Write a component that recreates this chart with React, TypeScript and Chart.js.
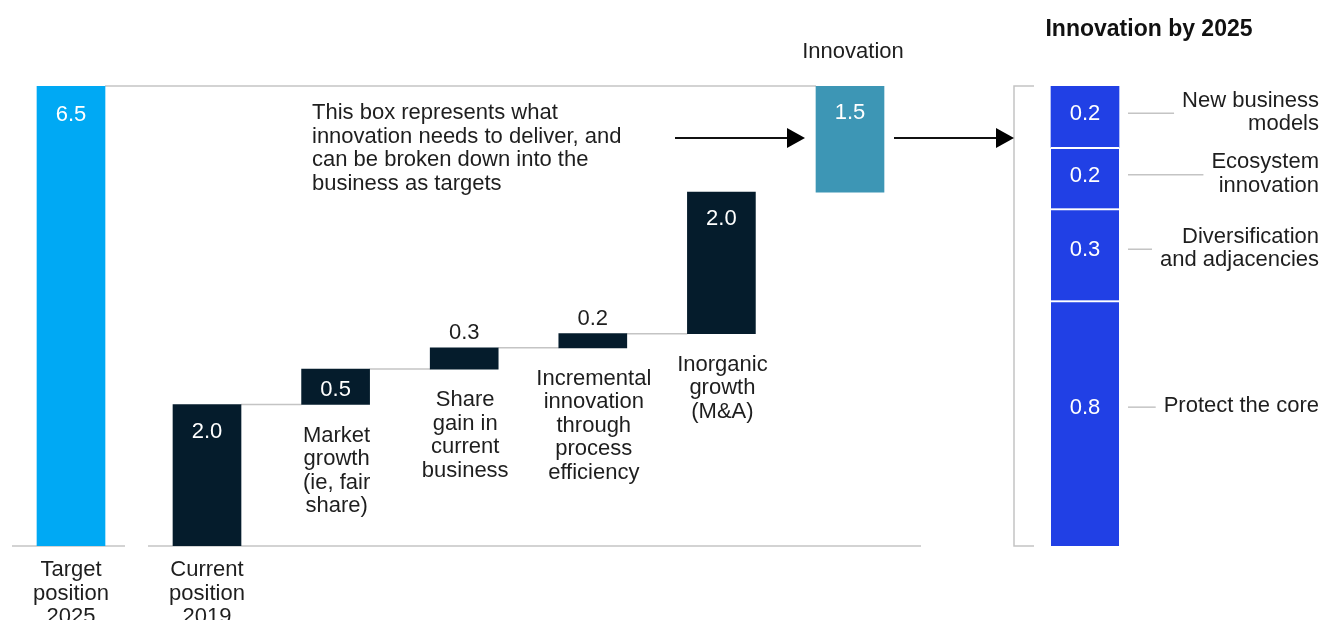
import React, { useEffect, useRef } from 'react';
import { Chart, registerables } from 'chart.js';
Chart.register(...registerables);

// ---------- data ----------
const targetLabel = ['Target', 'position', '2025'];
const targetValue = 6.5;

const stepCategories = [
  ['Current', 'position', '2019'],
  ['Market', 'growth', '(ie, fair', 'share)'],
  ['Share', 'gain in', 'current', 'business'],
  ['Incremental', 'innovation', 'through', 'process', 'efficiency'],
  ['Inorganic', 'growth', '(M&A)'],
  ['Innovation'],
];
const stepValues = [2.0, 0.5, 0.3, 0.2, 2.0, 1.5];

const breakdownTitle = 'Innovation by 2025';
const breakdownCategories = [
  ['Protect the core'],
  ['Diversification', 'and adjacencies'],
  ['Ecosystem', 'innovation'],
  ['New business', 'models'],
];
const breakdownValues = [0.8, 0.3, 0.2, 0.2];

const annotationLines = [
  'This box represents what',
  'innovation needs to deliver, and',
  'can be broken down into the',
  'business as targets',
];

// ---------- styles / layout ----------
const W = 1320;
const H = 620;
const TARGET_COLOR = '#00a9f4';
const STEP_COLOR = '#051c2c';
const INNOVATION_COLOR = '#3d96b5';
const BREAKDOWN_COLOR = '#2140e5';
const GRID = '#c4c4c4';
const TEXT = '#1e1e1e';
const FONT = '"Liberation Sans", Arial, sans-serif';
const LH = 23.5;
const TY = 2; // text vertical nudge

// waterfall built from step values
const stepRanges: [number, number][] = [];
{
  let cum = 0;
  stepValues.forEach((v) => {
    stepRanges.push([cum, cum + v]);
    cum += v;
  });
}
const breakdownRanges: [number, number][] = [];
{
  let cum = 0;
  breakdownValues.forEach((v) => {
    breakdownRanges.push([cum, cum + v]);
    cum += v;
  });
}
const breakdownTotal = breakdownValues.reduce((a, b) => a + b, 0);

const fmt = (v: number) => v.toFixed(1);

function bar(chart: any, ds: number, i: number) {
  const el = chart.getDatasetMeta(ds).data[i];
  const p = el.getProps(['x', 'y', 'base', 'width'], true);
  const top = Math.min(p.y, p.base);
  const bottom = Math.max(p.y, p.base);
  return { x: p.x, top, bottom, left: p.x - p.width / 2, right: p.x + p.width / 2, h: bottom - top };
}

function hline(ctx: CanvasRenderingContext2D, x1: number, x2: number, y: number, color = GRID, w = 1.5) {
  ctx.save();
  ctx.strokeStyle = color;
  ctx.lineWidth = w;
  ctx.beginPath();
  ctx.moveTo(x1, y);
  ctx.lineTo(x2, y);
  ctx.stroke();
  ctx.restore();
}

function arrow(ctx: CanvasRenderingContext2D, x1: number, x2: number, y: number) {
  ctx.save();
  ctx.strokeStyle = '#111';
  ctx.fillStyle = '#000';
  ctx.lineWidth = 2;
  ctx.beginPath();
  ctx.moveTo(x1, y);
  ctx.lineTo(x2 - 16, y);
  ctx.stroke();
  ctx.beginPath();
  ctx.moveTo(x2, y);
  ctx.lineTo(x2 - 18, y - 10);
  ctx.lineTo(x2 - 18, y + 10);
  ctx.closePath();
  ctx.fill();
  ctx.restore();
}

function text(ctx: CanvasRenderingContext2D, s: string, x: number, y: number) {
  ctx.fillText(s, x, y + TY);
}

function textLines(ctx: CanvasRenderingContext2D, lines: string[], x: number, y0: number) {
  lines.forEach((t, i) => text(ctx, t, x, y0 + i * LH));
}

const overlay = {
  id: 'overlay',
  beforeDatasetsDraw(chart: any) {
    const ctx = chart.ctx as CanvasRenderingContext2D;
    const t = bar(chart, 0, 0);
    const steps = stepValues.map((_, i) => bar(chart, 1, i));
    const last = steps[steps.length - 1];
    const stack = bar(chart, 2, 0);
    const baseY = t.bottom;
    // baselines
    hline(ctx, t.x - 59, t.x + 54, baseY);
    hline(ctx, steps[0].x - 59, last.x + 71, baseY);
    // target connector
    hline(ctx, t.right, last.left, t.top);
    // step connectors
    for (let i = 0; i < steps.length - 2; i++) {
      hline(ctx, steps[i].right, steps[i + 1].left, steps[i].top);
    }
    // bracket
    const bx = stack.left - 37;
    const topY = bar(chart, 2 + breakdownValues.length - 1, 0).top;
    ctx.save();
    ctx.strokeStyle = GRID;
    ctx.lineWidth = 1.5;
    ctx.beginPath();
    ctx.moveTo(bx + 20, topY);
    ctx.lineTo(bx, topY);
    ctx.lineTo(bx, stack.bottom);
    ctx.lineTo(bx + 20, stack.bottom);
    ctx.stroke();
    ctx.restore();
  },
  afterDatasetsDraw(chart: any) {
    const ctx = chart.ctx as CanvasRenderingContext2D;
    ctx.save();
    ctx.textBaseline = 'middle';
    ctx.font = `22px ${FONT}`;

    // target
    const t = bar(chart, 0, 0);
    ctx.textAlign = 'center';
    ctx.fillStyle = '#ffffff';
    text(ctx, fmt(targetValue), t.x, t.top + 27);
    ctx.fillStyle = TEXT;
    textLines(ctx, targetLabel, t.x, t.bottom + 22);

    // steps
    const steps = stepValues.map((_, i) => bar(chart, 1, i));
    steps.forEach((b, i) => {
      const label = fmt(stepValues[i]);
      if (b.h >= 52) {
        ctx.fillStyle = '#ffffff';
        text(ctx, label, b.x, b.top + 25);
      } else if (b.h >= 30) {
        ctx.fillStyle = '#ffffff';
        text(ctx, label, b.x, b.top + b.h / 2 + 1);
      } else {
        ctx.fillStyle = TEXT;
        text(ctx, label, b.x, b.top - 17);
      }
      ctx.fillStyle = TEXT;
      if (i === steps.length - 1) {
        textLines(ctx, stepCategories[i], b.x + 3, b.top - 36);
      } else if (stepRanges[i][0] === 0) {
        textLines(ctx, stepCategories[i], b.x, b.bottom + 22);
      } else {
        textLines(ctx, stepCategories[i], b.x + 1, b.bottom + 29);
      }
    });

    // annotation
    const innov = steps[steps.length - 1];
    ctx.textAlign = 'left';
    ctx.fillStyle = TEXT;
    textLines(ctx, annotationLines, 312, t.top + 25);

    // arrows
    const stack0 = bar(chart, 2, 0);
    const bx = stack0.left - 37;
    const ay = innov.top + innov.h / 2 - 1;
    arrow(ctx, innov.left - 141, innov.left - 11, ay);
    arrow(ctx, innov.right + 10, bx, ay);

    // breakdown
    const rightEdge = W - 1;
    breakdownValues.forEach((v, i) => {
      const b = bar(chart, 2 + i, 0);
      const y = b.top + b.h / 2 - b.h * 0.07;
      ctx.font = `22px ${FONT}`;
      ctx.textAlign = 'center';
      ctx.fillStyle = '#ffffff';
      text(ctx, fmt(v), b.x, y);
      const lines = breakdownCategories[i];
      const maxW = Math.max(...lines.map((l) => ctx.measureText(l).width));
      ctx.textAlign = 'right';
      ctx.fillStyle = TEXT;
      const y0 = y - 2 - ((lines.length - 1) * LH) / 2;
      textLines(ctx, lines, rightEdge, y0);
      hline(ctx, b.right + 9, rightEdge - maxW - 8, y + 1, GRID, 1.5);
    });

    // title
    const topSeg = bar(chart, 2 + breakdownValues.length - 1, 0);
    ctx.font = `bold 23px ${FONT}`;
    ctx.textAlign = 'center';
    ctx.fillStyle = '#111';
    text(ctx, breakdownTitle, topSeg.x + 64, 28);
    ctx.restore();
  },
};

export default function App() {
  const ref = useRef<HTMLCanvasElement | null>(null);
  useEffect(() => {
    if (!ref.current) return;
    const stepSlot = 128.6;
    const stepFirst = 207;
    const targetCenter = 71;
    const stackCenter = 1085;
    const unit = 100;

    const datasets: any[] = [
      {
        label: 'Target',
        xAxisID: 'xT',
        yAxisID: 'y',
        data: [{ x: 0, y: [0, targetValue] }],
        backgroundColor: TARGET_COLOR,
      },
      {
        label: 'Steps',
        xAxisID: 'xM',
        yAxisID: 'y',
        data: stepRanges.map((r, i) => ({ x: i, y: r })),
        backgroundColor: stepValues.map((_, i) => (i === stepValues.length - 1 ? INNOVATION_COLOR : STEP_COLOR)),
      },
      ...breakdownRanges.map((r, i) => ({
        label: breakdownCategories[i].join(' '),
        xAxisID: 'xR',
        yAxisID: 'yR',
        data: [{ x: 0, y: r }],
        backgroundColor: BREAKDOWN_COLOR,
        borderColor: '#ffffff',
        borderSkipped: false,
        borderWidth: { top: i === breakdownRanges.length - 1 ? 0 : 2, bottom: 0, left: 0, right: 0 },
      })),
    ];

    const chart = new Chart(ref.current, {
      type: 'bar',
      data: { datasets },
      options: {
        responsive: false,
        animation: false,
        events: [],
        layout: { padding: { top: 86, bottom: H - 546, left: 0, right: 0 } },
        datasets: { bar: { barThickness: 68, grouped: false } as any },
        plugins: { legend: { display: false }, tooltip: { enabled: false }, title: { display: false } },
        scales: {
          xT: { type: 'linear', display: false, offset: false, min: -targetCenter / unit, max: (W - targetCenter) / unit },
          xM: { type: 'linear', display: false, offset: false, min: -stepFirst / stepSlot, max: (W - stepFirst) / stepSlot },
          xR: { type: 'linear', display: false, offset: false, min: -stackCenter / unit, max: (W - stackCenter) / unit },
          y: { type: 'linear', display: false, min: 0, max: targetValue },
          yR: { type: 'linear', display: false, min: 0, max: breakdownTotal },
        },
      } as any,
      plugins: [overlay],
    });
    return () => chart.destroy();
  }, []);

  return (
    <div style={{ position: 'absolute', left: 0, top: 0, width: W, height: H, background: '#fff' }}>
      <canvas ref={ref} width={W} height={H} />
    </div>
  );
}
